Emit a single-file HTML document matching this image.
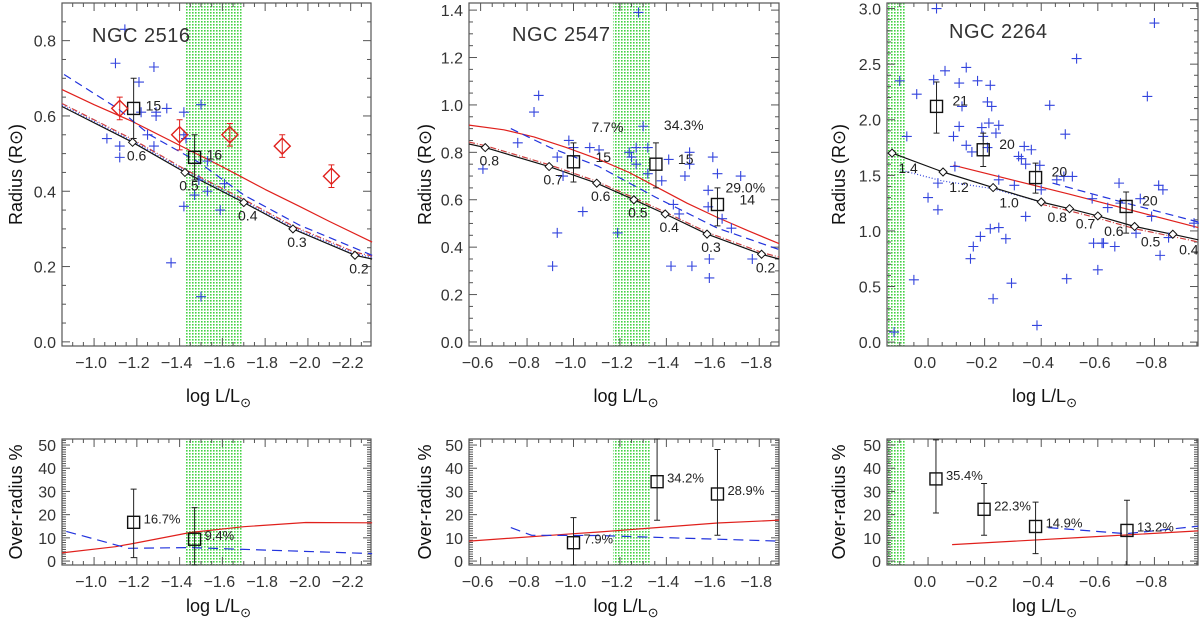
<!DOCTYPE html>
<html><head><meta charset="utf-8">
<style>
html,body{margin:0;padding:0;background:#fff;}
svg{display:block;font-family:"Liberation Sans",sans-serif;}
</style></head>
<body>
<svg id="chart" width="1200" height="622" viewBox="0 0 1200 622" xmlns="http://www.w3.org/2000/svg">
<defs>
<pattern id="gdots" width="3" height="3" patternUnits="userSpaceOnUse">
<rect x="0" y="0" width="1.6" height="1.6" fill="#44d144"/>
</pattern>
</defs>
</svg>
<script>
// ===== Panel 1 (NGC 2516) data =====
const p1PlusX=[-1.144,-1.10,-1.28,-1.21,-1.50,-1.34,-1.29,-1.29,-1.22,-1.42,-1.06,-1.12,-1.12,-1.25,-1.28,-1.42,-1.43,-1.53,-1.49,-1.47,-1.53,-1.61,-1.42,-1.59,-1.36,-1.50];
const p1PlusY=[0.83,0.74,0.73,0.69,0.63,0.62,0.61,0.60,0.61,0.61,0.54,0.52,0.49,0.55,0.52,0.55,0.54,0.48,0.43,0.39,0.40,0.42,0.36,0.35,0.21,0.12];
const p1RedX=[-1.12,-1.40,-1.635,-1.88,-2.11];
const p1RedY=[0.62,0.55,0.55,0.52,0.44];
const p1RedErr=[0.03,0.04,0.03,0.03,0.03];
const p1SqX=[-1.185,-1.47];
const p1SqY=[0.62,0.49];
const p1SqHi=[0.70,0.55];
const p1SqLo=[0.54,0.43];
const p1SqLab=["15","16"];
const p1DiaX=[-1.18,-1.425,-1.70,-1.93,-2.22];
const p1DiaY=[0.53,0.45,0.37,0.30,0.23];
const p1DiaLab=["0.6","0.5","0.4","0.3","0.2"];
const p1BlackX=[-0.85,-1.18,-1.425,-1.70,-1.93,-2.22,-2.30];
const p1BlackY=[0.625,0.53,0.45,0.37,0.30,0.23,0.22];
const p1RedLX=[-0.85,-1.0,-1.18,-1.425,-1.60,-1.80,-1.96,-2.10,-2.30];
const p1RedLY=[0.67,0.63,0.585,0.515,0.465,0.405,0.36,0.32,0.265];
const p1BlueX=[-0.86,-1.11,-1.26,-1.495,-1.70,-1.96,-2.30];
const p1BlueY=[0.71,0.62,0.55,0.475,0.39,0.31,0.23];
const p1Band=[-1.43,-1.69];
// ===== Panel 2 (NGC 2547) data =====
const p2PlusX=[-0.61,-0.76,-0.83,-0.85,-0.91,-0.93,-0.93,-0.955,-0.98,-1.0,-1.04,-1.07,-1.11,-1.19,-1.24,-1.25,-1.27,-1.27,-1.28,-1.30,-1.32,-1.32,-1.38,-1.41,-1.42,-1.43,-1.455,-1.48,-1.50,-1.50,-1.51,-1.58,-1.58,-1.585,-1.585,-1.60,-1.62,-1.64,-1.68,-1.72,-1.77];
const p2PlusY=[0.73,0.84,0.97,1.04,0.32,0.46,0.78,0.70,0.85,0.82,0.55,0.82,0.81,0.46,0.80,0.78,0.75,0.82,1.39,0.91,0.82,0.71,0.68,0.77,0.32,0.58,0.54,0.70,0.80,0.75,0.32,0.64,0.57,0.35,0.27,0.78,0.71,0.52,0.48,0.70,0.35];
const p2SqX=[-1.0,-1.355,-1.62];
const p2SqY=[0.76,0.75,0.58];
const p2SqHi=[0.84,0.84,0.65];
const p2SqLo=[0.675,0.65,0.49];
const p2SqLab=["15","15","14"];
const p2SqPct=["7.7%","34.3%","29.0%"];
const p2DiaX=[-0.62,-0.895,-1.10,-1.26,-1.395,-1.575,-1.81];
const p2DiaY=[0.82,0.74,0.67,0.60,0.54,0.455,0.37];
const p2DiaLab=["0.8","0.7","0.6","0.5","0.4","0.3","0.2"];
const p2BlackX=[-0.55,-0.62,-0.895,-1.10,-1.26,-1.395,-1.575,-1.81,-1.885];
const p2BlackY=[0.835,0.82,0.74,0.67,0.60,0.54,0.455,0.37,0.35];
const p2RedLX=[-0.55,-0.70,-0.83,-0.97,-1.11,-1.24,-1.355,-1.49,-1.62,-1.75,-1.885];
const p2RedLY=[0.915,0.895,0.865,0.82,0.77,0.715,0.655,0.585,0.525,0.47,0.415];
const p2BlueX=[-0.73,-0.90,-1.11,-1.355,-1.62,-1.885];
const p2BlueY=[0.90,0.82,0.74,0.61,0.48,0.39];
const p2Band=[-1.17,-1.33];
// ===== Panel 3 (NGC 2264) data =====
const p3PlusX=[-0.03,0.10,0.04,0.075,0.05,0.12,0.0,-0.02,-0.035,-0.035,-0.06,-0.09,-0.095,-0.11,-0.11,-0.12,-0.135,-0.135,-0.15,-0.155,-0.16,-0.175,-0.185,-0.19,-0.195,-0.21,-0.21,-0.215,-0.22,-0.225,-0.22,-0.23,-0.24,-0.25,-0.25,-0.25,-0.275,-0.295,-0.305,-0.32,-0.33,-0.34,-0.345,-0.345,-0.365,-0.385,-0.395,-0.40,-0.43,-0.455,-0.485,-0.49,-0.48,-0.51,-0.525,-0.58,-0.585,-0.60,-0.615,-0.62,-0.635,-0.66,-0.675,-0.68,-0.735,-0.75,-0.775,-0.79,-0.80,-0.815,-0.82,-0.83,-0.85,-0.94];
const p3PlusY=[3.0,2.35,2.23,1.85,0.56,0.09,1.30,2.36,1.43,1.19,2.44,1.85,1.58,1.94,2.33,2.12,2.47,1.77,0.75,1.71,0.86,2.35,0.95,1.93,1.85,1.75,2.16,1.97,2.31,2.12,1.02,0.39,1.88,1.95,1.03,1.46,0.93,0.53,1.41,1.67,1.65,1.76,1.60,1.13,1.73,0.15,1.59,1.37,2.13,1.46,1.87,0.57,1.49,1.49,2.55,1.29,0.89,0.65,0.89,0.89,1.21,0.86,1.43,1.25,0.98,1.29,2.21,1.13,2.87,1.41,0.78,1.37,0.94,1.07];
const p3SqX=[-0.03,-0.195,-0.38,-0.70];
const p3SqY=[2.12,1.73,1.48,1.22];
const p3SqHi=[2.34,1.88,1.61,1.35];
const p3SqLo=[1.88,1.58,1.34,0.98];
const p3SqLab=["21","20","20","20"];
const p3DiaX=[0.127,-0.053,-0.23,-0.40,-0.50,-0.60,-0.73,-0.865];
const p3DiaY=[1.70,1.53,1.39,1.26,1.20,1.135,1.04,0.97];
const p3DiaLab=["1.4","1.2","1.0","0.8","0.7","0.6","0.5","0.4"];
const p3BlackX=[0.127,-0.053,-0.23,-0.40,-0.50,-0.60,-0.73,-0.865,-0.955];
const p3BlackY=[1.70,1.53,1.39,1.26,1.20,1.135,1.04,0.97,0.92];
const p3RedLX=[-0.09,-0.50,-0.955];
const p3RedLY=[1.59,1.33,1.03];
const p3BlueX=[-0.44,-0.70,-0.955];
const p3BlueY=[1.43,1.25,1.08];
const p3DotX=[0.10,-0.05,-0.23,-0.40];
const p3DotY=[1.55,1.45,1.38,1.26];
const p3Band=[0.145,0.081];
// ===== Bottom panels (over-radius %) =====
const b1SqX=[-1.185,-1.47];
const b1SqY=[16.7,9.4];
const b1SqHi=[31,23];
const b1SqLo=[1.5,-2];
const b1SqLab=["16.7%","9.4%"];
const b1RedX=[-0.85,-1.10,-1.195,-1.45,-1.70,-1.99,-2.30];
const b1RedY=[3.5,6.2,7.8,12.3,14.8,16.6,16.5];
const b1BlueX=[-0.87,-1.16,-1.45,-2.30];
const b1BlueY=[12.8,5.5,5.8,3.2];
const b2SqX=[-1.0,-1.36,-1.62];
const b2SqY=[7.9,34.2,28.9];
const b2SqHi=[18.7,55,48.1];
const b2SqLo=[-2,17.6,11.1];
const b2SqLab=["7.9%","34.2%","28.9%"];
const b2RedX=[-0.55,-1.0,-1.11,-1.62,-1.885];
const b2RedY=[8.6,11.8,12.5,16.4,17.6];
const b2BlueX=[-0.73,-0.82,-1.10,-1.885];
const b2BlueY=[14.4,11.1,11.0,8.6];
const b3SqX=[-0.028,-0.198,-0.38,-0.703];
const b3SqY=[35.4,22.3,14.9,13.2];
const b3SqHi=[52.2,33.4,25.4,26.2];
const b3SqLo=[20.7,11.1,3.2,-2];
const b3SqLab=["35.4%","22.3%","14.9%","13.2%"];
const b3RedX=[-0.085,-0.53,-0.955];
const b3RedY=[7.1,10.1,13.0];
const b3BlueX=[-0.425,-0.70,-0.955];
const b3BlueY=[14.4,11.8,15.0];

const svg=document.getElementById('chart');
const NS='http://www.w3.org/2000/svg';
function mk(tag,attrs,parent){const e=document.createElementNS(NS,tag);for(const k in attrs)e.setAttribute(k,attrs[k]);(parent||svg).appendChild(e);return e;}
function txt(s,attrs,parent){const e=mk('text',attrs,parent);e.textContent=s;return e;}

function makeAxes(c){
  c.sx=v=>c.x0+(v-c.xmin)/(c.xmax-c.xmin)*(c.x1-c.x0);
  c.sy=v=>c.y1-(v-c.ymin)/(c.ymax-c.ymin)*(c.y1-c.y0);
  return c;
}
function band(c,b,name){
  const xa=c.sx(b[0]),xb=c.sx(b[1]);
  const r=mk('rect',{x:Math.min(xa,xb),y:c.y0,width:Math.abs(xb-xa),height:c.y1-c.y0,fill:'url(#gdots)'});
  
  
}
function frame(c,name,xt,xminor,yt,yminor,ylab,ydec){
  const g=mk('g',{});
  
  
  mk('rect',{x:c.x0,y:c.y0,width:c.x1-c.x0,height:c.y1-c.y0,fill:'none',stroke:'#555','stroke-width':1.2},g);
  const lo=Math.min(c.xmin,c.xmax),hi=Math.max(c.xmin,c.xmax);
  for(let v=Math.ceil(lo/xminor-1e-6)*xminor;v<=hi+1e-9;v+=xminor){
    const x=c.sx(v);const isMaj=Math.abs(v/xt-Math.round(v/xt))<1e-6;const L=isMaj?8:4;
    mk('line',{x1:x,x2:x,y1:c.y1,y2:c.y1-L,stroke:'#555'},g);
    mk('line',{x1:x,x2:x,y1:c.y0,y2:c.y0+L,stroke:'#555'},g);
    if(isMaj){
      let s=(Math.abs(v)<1e-9?0:v).toFixed(1).replace('-','\u2212');
      const t=txt(s,{x:x-3,y:c.y1+22,'text-anchor':'middle','font-size':16,fill:'#333'},g);
      
      
    }
  }
  for(let v=Math.ceil(c.ymin/yminor-1e-6)*yminor;v<=c.ymax+1e-9;v+=yminor){
    const y=c.sy(v);const isMaj=Math.abs(v/yt-Math.round(v/yt))<1e-6;const L=isMaj?8:4;
    mk('line',{x1:c.x0,x2:c.x0+L,y1:y,y2:y,stroke:'#555'},g);
    mk('line',{x1:c.x1,x2:c.x1-L,y1:y,y2:y,stroke:'#555'},g);
    if(isMaj){
      const t=txt(Math.abs(v)<1e-9?(ydec?'0.0':'0'):v.toFixed(ydec),{x:c.x0-6,y:y+6,'text-anchor':'end','font-size':16,fill:'#333'},g);
      
      
    }
  }
  const xt2=mk('text',{x:(c.x0+c.x1)/2+2,y:c.xtitleY,'text-anchor':'middle','font-size':18,fill:'#111'});
  
  
  xt2.appendChild(document.createTextNode('log L/L'));
  const ts=mk('tspan',{dy:5,'font-size':13},xt2);
  ts.textContent='\u2299';
  const yt2=mk('text',{x:0,y:0,'text-anchor':'middle','font-size':18,fill:'#111',transform:`translate(${c.ytitleX},${(c.y0+c.y1)/2}) rotate(-90)`});
  
  
  yt2.textContent=ylab;
}
function line(c,xs,ys,color,dash,name,w){
  const pts=xs.map((x,i)=>c.sx(x).toFixed(1)+','+c.sy(ys[i]).toFixed(1)).join(' ');
  const p=mk('polyline',{points:pts,fill:'none',stroke:color,'stroke-width':w||1.2,'stroke-dasharray':dash||'none','stroke-linejoin':'round'});
  
  
}
function pluses(c,xs,ys){
  const g=mk('g',{stroke:'#3344dd','stroke-width':1.1});
  
  
  xs.forEach((x,i)=>{const X=c.sx(x),Y=c.sy(ys[i]);
    const p=mk('path',{d:`M${X-5},${Y}H${X+5}M${X},${Y-5}V${Y+5}`},g);
    
    
  });
}
function squares(c,xs,ys,hi,lo,labs,dx,dy,name,fs){
  xs.forEach((x,i)=>{const X=c.sx(x),Y=c.sy(ys[i]);
    const yh=Math.max(c.sy(hi[i]),c.y0),yl=Math.min(c.sy(lo[i]),c.y1);
    const e=mk('path',{d:`M${X},${yh}V${yl}M${X-3},${yh}H${X+3}M${X-3},${yl}H${X+3}`,stroke:'#222','stroke-width':1});
    
    
    const s=mk('rect',{x:X-6,y:Y-6,width:12,height:12,fill:'none',stroke:'#111','stroke-width':1.4});
    
    
    if(labs){const t=txt(labs[i],{x:X+dx,y:Y+dy,'font-size':fs||14,fill:'#222'});
      
      }
  });
}
function diamonds(c,xs,ys,labs,dx,dy){
  xs.forEach((x,i)=>{const X=c.sx(x),Y=c.sy(ys[i]);
    const d=mk('path',{d:`M${X-4},${Y}L${X},${Y-4}L${X+4},${Y}L${X},${Y+4}Z`,fill:'#fff',stroke:'#111','stroke-width':1});
    
    
    const t=txt(labs[i],{x:X+dx,y:Y+dy,'text-anchor':'middle','font-size':14,fill:'#222'});
    
    
  });
}
function title(s,x,y){const t=txt(s,{x:x,y:y,'font-size':20,fill:'#333','letter-spacing':'0.5'});
  
  }

// ===== Top panels =====
const c1=makeAxes({x0:62,x1:371,y0:3,y1:346,xmin:-0.85,xmax:-2.295,ymin:-0.011,ymax:0.9,xtitleY:402,ytitleX:22});
band(c1,p1Band,'band-ngc2516');
frame(c1,'panel-ngc2516',0.2,0.05,0.2,0.05,'Radius (R\u2299)',1);
line(c1,p1RedLX,p1RedLY,'#e0201c',null,'red-model-line');
line(c1,p1BlackX,p1BlackY.map(v=>v+0.008),'#d04040','6,2,1,2','red-dashdot-model');
line(c1,p1BlackX,p1BlackY.map(v=>v+0.004),'#3344dd','1,2','blue-dotted-model');
line(c1,p1BlueX,p1BlueY,'#2233dd','8,5','blue-dashed-model');
line(c1,p1BlackX,p1BlackY,'#111',null,'black-model-line');
pluses(c1,p1PlusX,p1PlusY);
diamonds(c1,p1DiaX,p1DiaY,p1DiaLab,4,18);
squares(c1,p1SqX,p1SqY,p1SqHi,p1SqLo,p1SqLab,12,2,'binned-square');
p1RedX.forEach((x,i)=>{const X=c1.sx(x),Y=c1.sy(p1RedY[i]);
  const e=mk('path',{d:`M${X},${c1.sy(p1RedY[i]+p1RedErr[i])}V${c1.sy(p1RedY[i]-p1RedErr[i])}M${X-3},${c1.sy(p1RedY[i]+p1RedErr[i])}H${X+3}M${X-3},${c1.sy(p1RedY[i]-p1RedErr[i])}H${X+3}`,stroke:'#e0201c'});
  
  
  const d=mk('path',{d:`M${X-8},${Y}L${X},${Y-8}L${X+8},${Y}L${X},${Y+8}Z`,fill:'none',stroke:'#e0201c','stroke-width':1.4});
  
  
});
title('NGC  2516',92,42);

const c2=makeAxes({x0:469,x1:779,y0:3,y1:346,xmin:-0.55,xmax:-1.885,ymin:-0.017,ymax:1.43,xtitleY:402,ytitleX:431});
band(c2,p2Band,'band-ngc2547');
frame(c2,'panel-ngc2547',0.2,0.05,0.2,0.05,'Radius (R\u2299)',1);
line(c2,p2RedLX,p2RedLY,'#e0201c',null,'red-model-line');
line(c2,p2BlackX,p2BlackY.map(v=>v+0.008),'#d04040','6,2,1,2','red-dashdot-model');
line(c2,p2BlueX,p2BlueY,'#2233dd','8,5','blue-dashed-model');
line(c2,p2BlackX,p2BlackY,'#111',null,'black-model-line');
pluses(c2,p2PlusX,p2PlusY);
diamonds(c2,p2DiaX,p2DiaY,p2DiaLab,4,18);
squares(c2,p2SqX,p2SqY,p2SqHi,p2SqLo,p2SqLab,22,0,'binned-square');
p2SqX.forEach((x,i)=>{const t=txt(p2SqPct[i],{x:c2.sx(x)+(i==0?18:8),y:c2.sy(p2SqY[i])-(i==0?30:34)+(i==2?22:0),'font-size':14,fill:'#222'});
  
  });
title('NGC  2547',512,41);

const c3=makeAxes({x0:887,x1:1198,y0:3,y1:346,xmin:0.145,xmax:-0.954,ymin:-0.035,ymax:3.05,xtitleY:402,ytitleX:845});
band(c3,p3Band,'band-ngc2264');
frame(c3,'panel-ngc2264',0.2,0.05,0.5,0.1,'Radius (R\u2299)',1);
line(c3,p3RedLX,p3RedLY,'#e0201c',null,'red-model-line');
line(c3,p3BlackX.slice(3),p3BlackY.slice(3).map(v=>v-0.02),'#d04040','6,2,1,2','red-dashdot-model');
line(c3,p3DotX,p3DotY,'#3344dd','1,2','blue-dotted-model');
line(c3,p3BlueX,p3BlueY,'#2233dd','8,5','blue-dashed-model');
line(c3,p3BlackX,p3BlackY,'#111',null,'black-model-line');
pluses(c3,p3PlusX,p3PlusY);
diamonds(c3,p3DiaX,p3DiaY,p3DiaLab,16,20);
squares(c3,p3SqX,p3SqY,p3SqHi,p3SqLo,p3SqLab,16,-1,'binned-square');
title('NGC  2264',949,38);

// ===== Bottom panels =====
const d1=makeAxes({x0:62,x1:371,y0:439,y1:565,xmin:-0.85,xmax:-2.295,ymin:-1.7,ymax:52.6,xtitleY:612,ytitleX:22});
band(d1,p1Band,'band-bottom-ngc2516');
frame(d1,'over-radius-panel-ngc2516',0.2,0.05,10,1,'Over-radius %',0);
line(d1,b1RedX,b1RedY,'#e0201c',null,'red-over-radius-line');
line(d1,b1BlueX,b1BlueY,'#2233dd','10,6','blue-over-radius-line');
squares(d1,b1SqX,b1SqY,b1SqHi,b1SqLo,b1SqLab,10,1,'over-radius-square',13);

const d2=makeAxes({x0:469,x1:779,y0:439,y1:565,xmin:-0.55,xmax:-1.885,ymin:-1.7,ymax:52.6,xtitleY:612,ytitleX:431});
band(d2,p2Band,'band-bottom-ngc2547');
frame(d2,'over-radius-panel-ngc2547',0.2,0.05,10,1,'Over-radius %',0);
line(d2,b2RedX,b2RedY,'#e0201c',null,'red-over-radius-line');
line(d2,b2BlueX,b2BlueY,'#2233dd','10,6','blue-over-radius-line');
squares(d2,b2SqX,b2SqY,b2SqHi,b2SqLo,b2SqLab,10,1,'over-radius-square',13);

const d3=makeAxes({x0:887,x1:1198,y0:439,y1:565,xmin:0.145,xmax:-0.954,ymin:-1.7,ymax:52.6,xtitleY:612,ytitleX:845});
band(d3,p3Band,'band-bottom-ngc2264');
frame(d3,'over-radius-panel-ngc2264',0.2,0.05,10,1,'Over-radius %',0);
line(d3,b3RedX,b3RedY,'#e0201c',null,'red-over-radius-line');
line(d3,b3BlueX,b3BlueY,'#2233dd','10,6','blue-over-radius-line');
squares(d3,b3SqX,b3SqY,b3SqHi,b3SqLo,b3SqLab,10,1,'over-radius-square',13);
</script>
</body></html>
